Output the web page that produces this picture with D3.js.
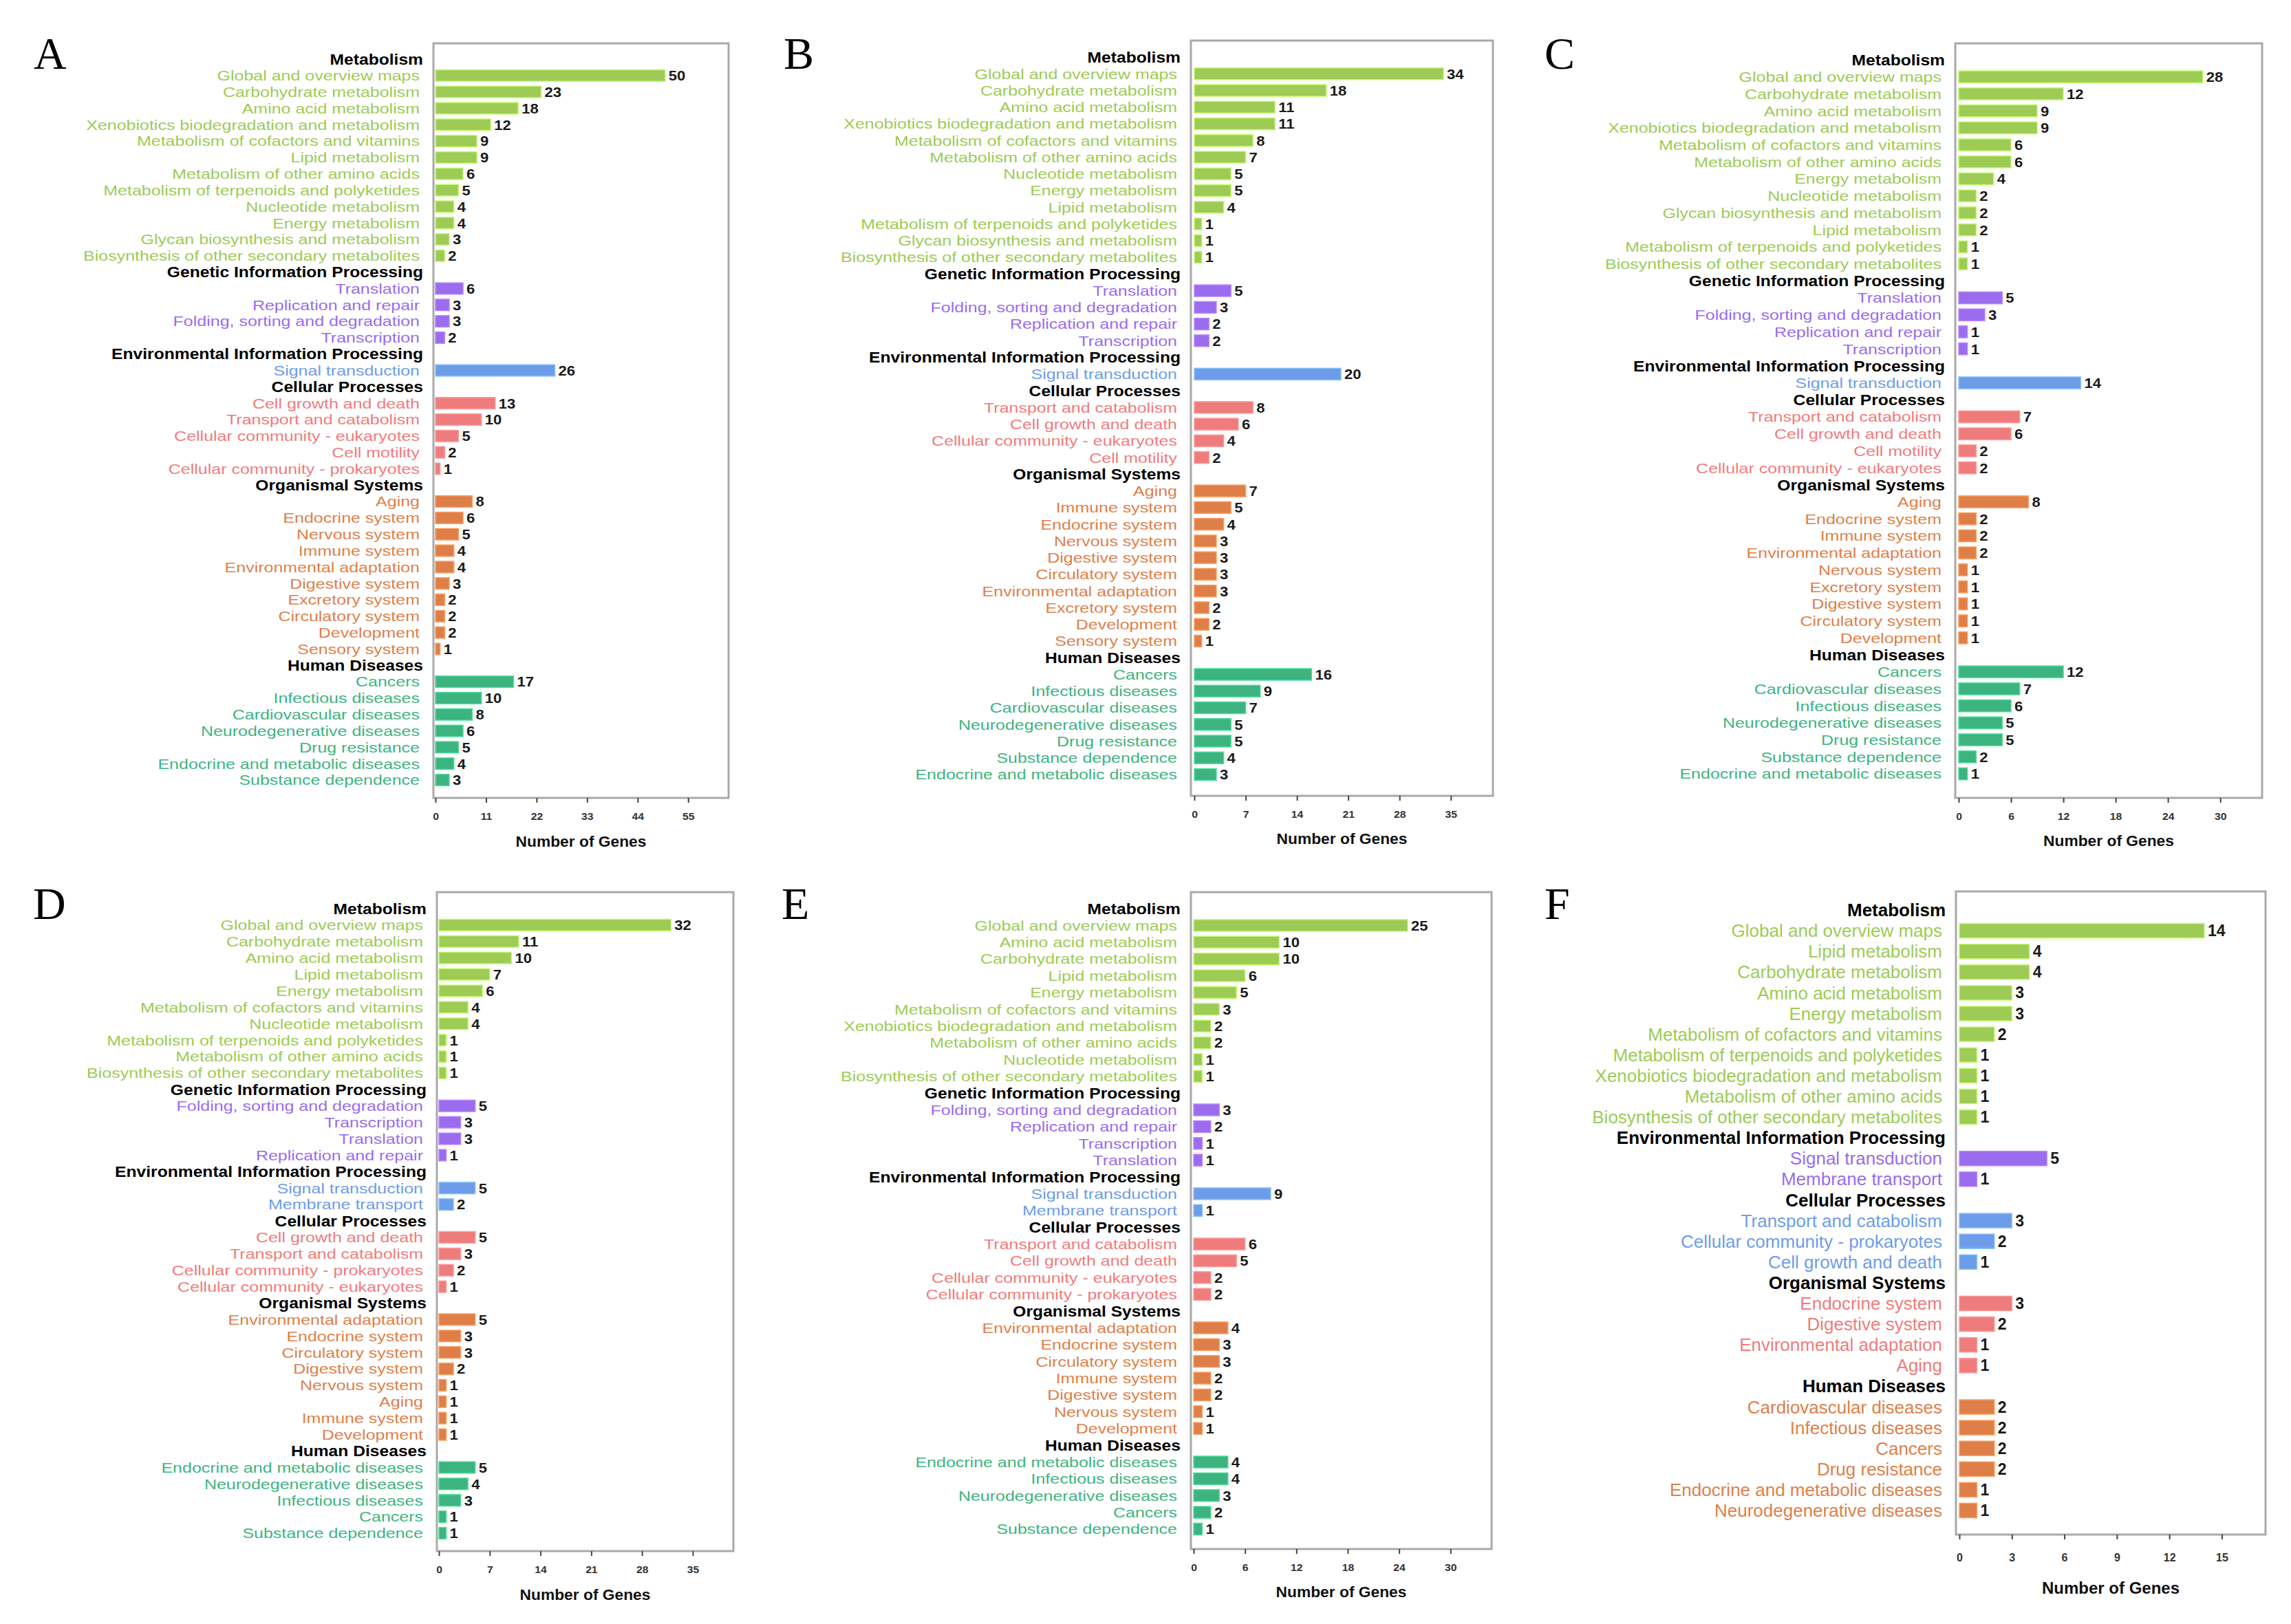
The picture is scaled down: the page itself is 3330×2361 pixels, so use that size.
<!DOCTYPE html>
<html>
<head>
<meta charset="utf-8">
<script src="https://cdn.jsdelivr.net/npm/d3@7"></script>
<style>
  body { margin: 0; background: #fff; }
</style>
</head>
<body>
<script>
// colours follow the order of the level-1 groups inside each panel
const palette = ["#9dcb55", "#9a6cee", "#6d9de8", "#ef7c7c", "#de7f4a", "#3db47f"];

// ---- panel A ----
const groupsA = ["Metabolism", "Genetic Information Processing", "Environmental Information Processing", "Cellular Processes", "Organismal Systems", "Human Diseases"];
const termsA = [
  ["Global and overview maps", "Carbohydrate metabolism", "Amino acid metabolism", "Xenobiotics biodegradation and metabolism", "Metabolism of cofactors and vitamins", "Lipid metabolism", "Metabolism of other amino acids", "Metabolism of terpenoids and polyketides", "Nucleotide metabolism", "Energy metabolism", "Glycan biosynthesis and metabolism", "Biosynthesis of other secondary metabolites"],
  ["Translation", "Replication and repair", "Folding, sorting and degradation", "Transcription"],
  ["Signal transduction"],
  ["Cell growth and death", "Transport and catabolism", "Cellular community - eukaryotes", "Cell motility", "Cellular community - prokaryotes"],
  ["Aging", "Endocrine system", "Nervous system", "Immune system", "Environmental adaptation", "Digestive system", "Excretory system", "Circulatory system", "Development", "Sensory system"],
  ["Cancers", "Infectious diseases", "Cardiovascular diseases", "Neurodegenerative diseases", "Drug resistance", "Endocrine and metabolic diseases", "Substance dependence"]
];
const valuesA = [
  [50, 23, 18, 12, 9, 9, 6, 5, 4, 4, 3, 2],
  [6, 3, 3, 2],
  [26],
  [13, 10, 5, 2, 1],
  [8, 6, 5, 4, 4, 3, 2, 2, 2, 1],
  [17, 10, 8, 6, 5, 4, 3]
];
const ticksA = [0, 11, 22, 33, 44, 55];

// ---- panel B ----
const groupsB = groupsA;
const termsB = [
  ["Global and overview maps", "Carbohydrate metabolism", "Amino acid metabolism", "Xenobiotics biodegradation and metabolism", "Metabolism of cofactors and vitamins", "Metabolism of other amino acids", "Nucleotide metabolism", "Energy metabolism", "Lipid metabolism", "Metabolism of terpenoids and polyketides", "Glycan biosynthesis and metabolism", "Biosynthesis of other secondary metabolites"],
  ["Translation", "Folding, sorting and degradation", "Replication and repair", "Transcription"],
  ["Signal transduction"],
  ["Transport and catabolism", "Cell growth and death", "Cellular community - eukaryotes", "Cell motility"],
  ["Aging", "Immune system", "Endocrine system", "Nervous system", "Digestive system", "Circulatory system", "Environmental adaptation", "Excretory system", "Development", "Sensory system"],
  ["Cancers", "Infectious diseases", "Cardiovascular diseases", "Neurodegenerative diseases", "Drug resistance", "Substance dependence", "Endocrine and metabolic diseases"]
];
const valuesB = [
  [34, 18, 11, 11, 8, 7, 5, 5, 4, 1, 1, 1],
  [5, 3, 2, 2],
  [20],
  [8, 6, 4, 2],
  [7, 5, 4, 3, 3, 3, 3, 2, 2, 1],
  [16, 9, 7, 5, 5, 4, 3]
];
const ticksB = [0, 7, 14, 21, 28, 35];

// ---- panel C ----
const groupsC = groupsA;
const termsC = [
  ["Global and overview maps", "Carbohydrate metabolism", "Amino acid metabolism", "Xenobiotics biodegradation and metabolism", "Metabolism of cofactors and vitamins", "Metabolism of other amino acids", "Energy metabolism", "Nucleotide metabolism", "Glycan biosynthesis and metabolism", "Lipid metabolism", "Metabolism of terpenoids and polyketides", "Biosynthesis of other secondary metabolites"],
  ["Translation", "Folding, sorting and degradation", "Replication and repair", "Transcription"],
  ["Signal transduction"],
  ["Transport and catabolism", "Cell growth and death", "Cell motility", "Cellular community - eukaryotes"],
  ["Aging", "Endocrine system", "Immune system", "Environmental adaptation", "Nervous system", "Excretory system", "Digestive system", "Circulatory system", "Development"],
  ["Cancers", "Cardiovascular diseases", "Infectious diseases", "Neurodegenerative diseases", "Drug resistance", "Substance dependence", "Endocrine and metabolic diseases"]
];
const valuesC = [
  [28, 12, 9, 9, 6, 6, 4, 2, 2, 2, 1, 1],
  [5, 3, 1, 1],
  [14],
  [7, 6, 2, 2],
  [8, 2, 2, 2, 1, 1, 1, 1, 1],
  [12, 7, 6, 5, 5, 2, 1]
];
const ticksC = [0, 6, 12, 18, 24, 30];

// ---- panel D ----
const groupsD = groupsA;
const termsD = [
  ["Global and overview maps", "Carbohydrate metabolism", "Amino acid metabolism", "Lipid metabolism", "Energy metabolism", "Metabolism of cofactors and vitamins", "Nucleotide metabolism", "Metabolism of terpenoids and polyketides", "Metabolism of other amino acids", "Biosynthesis of other secondary metabolites"],
  ["Folding, sorting and degradation", "Transcription", "Translation", "Replication and repair"],
  ["Signal transduction", "Membrane transport"],
  ["Cell growth and death", "Transport and catabolism", "Cellular community - prokaryotes", "Cellular community - eukaryotes"],
  ["Environmental adaptation", "Endocrine system", "Circulatory system", "Digestive system", "Nervous system", "Aging", "Immune system", "Development"],
  ["Endocrine and metabolic diseases", "Neurodegenerative diseases", "Infectious diseases", "Cancers", "Substance dependence"]
];
const valuesD = [
  [32, 11, 10, 7, 6, 4, 4, 1, 1, 1],
  [5, 3, 3, 1],
  [5, 2],
  [5, 3, 2, 1],
  [5, 3, 3, 2, 1, 1, 1, 1],
  [5, 4, 3, 1, 1]
];
const ticksD = [0, 7, 14, 21, 28, 35];

// ---- panel E ----
const groupsE = groupsA;
const termsE = [
  ["Global and overview maps", "Amino acid metabolism", "Carbohydrate metabolism", "Lipid metabolism", "Energy metabolism", "Metabolism of cofactors and vitamins", "Xenobiotics biodegradation and metabolism", "Metabolism of other amino acids", "Nucleotide metabolism", "Biosynthesis of other secondary metabolites"],
  ["Folding, sorting and degradation", "Replication and repair", "Transcription", "Translation"],
  ["Signal transduction", "Membrane transport"],
  ["Transport and catabolism", "Cell growth and death", "Cellular community - eukaryotes", "Cellular community - prokaryotes"],
  ["Environmental adaptation", "Endocrine system", "Circulatory system", "Immune system", "Digestive system", "Nervous system", "Development"],
  ["Endocrine and metabolic diseases", "Infectious diseases", "Neurodegenerative diseases", "Cancers", "Substance dependence"]
];
const valuesE = [
  [25, 10, 10, 6, 5, 3, 2, 2, 1, 1],
  [3, 2, 1, 1],
  [9, 1],
  [6, 5, 2, 2],
  [4, 3, 3, 2, 2, 1, 1],
  [4, 4, 3, 2, 1]
];
const ticksE = [0, 6, 12, 18, 24, 30];

// ---- panel F ----
const groupsF = ["Metabolism", "Environmental Information Processing", "Cellular Processes", "Organismal Systems", "Human Diseases"];
const termsF = [
  ["Global and overview maps", "Lipid metabolism", "Carbohydrate metabolism", "Amino acid metabolism", "Energy metabolism", "Metabolism of cofactors and vitamins", "Metabolism of terpenoids and polyketides", "Xenobiotics biodegradation and metabolism", "Metabolism of other amino acids", "Biosynthesis of other secondary metabolites"],
  ["Signal transduction", "Membrane transport"],
  ["Transport and catabolism", "Cellular community - prokaryotes", "Cell growth and death"],
  ["Endocrine system", "Digestive system", "Environmental adaptation", "Aging"],
  ["Cardiovascular diseases", "Infectious diseases", "Cancers", "Drug resistance", "Endocrine and metabolic diseases", "Neurodegenerative diseases"]
];
const valuesF = [
  [14, 4, 4, 3, 3, 2, 1, 1, 1, 1],
  [5, 1],
  [3, 2, 1],
  [3, 2, 1, 1],
  [2, 2, 2, 2, 1, 1]
];
const ticksF = [0, 3, 6, 9, 12, 15];

const W = 3330, H = 2361;
const sans = "'Liberation Sans', Arial, sans-serif";
const serif = "'Liberation Serif', 'Times New Roman', serif";

const svg = d3.select("body").append("svg")
  .attr("width", W)
  .attr("height", H)
  .style("background", "#fff");

// small panels were stretched sideways in the original figure
const narrow = { label: 21, sxLabel: 1.19, head: 22, sxHead: 1.12, value: 21, sxValue: 1.05, tick: 15, sxTick: 1.05, title: 21.5, sxTitle: 1.06 };
const wide = { label: 26, sxLabel: 1, head: 26, sxHead: 1, value: 23, sxValue: 1, tick: 16, sxTick: 1, title: 24, sxTitle: 1 };

const panels = [
  { id: "A", groups: groupsA, terms: termsA, values: valuesA, ticks: ticksA, letter: [49, 100], frame: [630, 63, 1059, 1160], zero: 633, xMax: 63.8, rows: [86, 1134], tickY: 27, titleY: 63, t: narrow },
  { id: "B", groups: groupsB, terms: termsB, values: valuesB, ticks: ticksB, letter: [1139, 100], frame: [1731, 59, 2170, 1157], zero: 1736, xMax: 40.75, rows: [83, 1126], tickY: 27, titleY: 62, t: narrow },
  { id: "C", groups: groupsC, terms: termsC, values: valuesC, ticks: ticksC, letter: [2245, 100], frame: [2842, 63, 3288, 1160], zero: 2847, xMax: 34.8, rows: [87, 1125], tickY: 27, titleY: 62, t: narrow },
  { id: "D", groups: groupsD, terms: termsD, values: valuesD, ticks: ticksD, letter: [48, 1336], frame: [635, 1297, 1066, 2255], zero: 638, xMax: 40.6, rows: [1321, 2229], tickY: 27, titleY: 63, t: narrow },
  { id: "E", groups: groupsE, terms: termsE, values: valuesE, ticks: ticksE, letter: [1136, 1336], frame: [1731, 1297, 2168, 2252], zero: 1735, xMax: 34.8, rows: [1321, 2223], tickY: 27, titleY: 62, t: narrow },
  { id: "F", groups: groupsF, terms: termsF, values: valuesF, ticks: ticksF, letter: [2245, 1336], frame: [2843, 1296, 3293, 2231], zero: 2848, xMax: 17.5, rows: [1323, 2196], tickY: 33, titleY: 78, t: wide }
];

function stext(g, x, y, str, size, sx, opts) {
  return g.append("text")
    .attr("transform", `translate(${x},${y}) scale(${sx},1)`)
    .attr("dy", "0.35em")
    .style("font-family", sans)
    .attr("font-size", size)
    .attr("font-weight", opts.bold ? "bold" : "normal")
    .attr("text-anchor", opts.anchor || "start")
    .attr("fill", opts.fill || "#111")
    .text(str);
}

panels.forEach(p => {
  const g = svg.append("g").attr("class", "panel-" + p.id);
  const [fx0, fy0, fx1, fy1] = p.frame;
  const t = p.t;

  // flatten groups into rows, headers take a row of their own
  const rows = [];
  p.groups.forEach((name, gi) => {
    rows.push({ head: true, name: name });
    p.terms[gi].forEach((term, k) => {
      rows.push({ head: false, name: term, value: p.values[gi][k], color: palette[gi] });
    });
  });

  const x = d3.scaleLinear().domain([0, p.xMax]).range([p.zero, fx1]);
  const y = d3.scalePoint().domain(d3.range(rows.length)).range(p.rows);
  const bh = y.step() * 0.7;

  // panel letter
  g.append("text")
    .attr("x", p.letter[0])
    .attr("y", p.letter[1])
    .style("font-family", serif)
    .attr("font-size", 66)
    .attr("fill", "#000")
    .text(p.id);

  // frame
  g.append("rect")
    .attr("x", fx0)
    .attr("y", fy0)
    .attr("width", fx1 - fx0)
    .attr("height", fy1 - fy0)
    .attr("fill", "none")
    .attr("stroke", "#a9a9a9")
    .attr("stroke-width", 3);

  const indexed = rows.map((r, i) => Object.assign({ i: i }, r));
  const terms = indexed.filter(r => !r.head);
  const heads = indexed.filter(r => r.head);

  g.selectAll("rect.bar")
    .data(terms)
    .enter()
    .append("rect")
    .attr("class", "bar")
    .attr("x", x(0))
    .attr("y", d => y(d.i) - bh / 2)
    .attr("width", d => x(d.value) - x(0))
    .attr("height", bh)
    .attr("fill", d => d.color)
    .attr("stroke", d => d3.color(d.color).brighter(0.6))
    .attr("stroke-width", 1.5);

  terms.forEach(d => {
    stext(g, fx0 - 20, y(d.i), d.name, t.label, t.sxLabel, { anchor: "end", fill: d.color });
    stext(g, x(d.value) + 5, y(d.i), d.value, t.value, t.sxValue, { bold: true, fill: "#1a1a1a" });
  });
  heads.forEach(d => {
    stext(g, fx0 - 15, y(d.i), d.name, t.head, t.sxHead, { anchor: "end", bold: true, fill: "#000" });
  });

  // x axis under the frame
  const ax = g.append("g")
    .attr("transform", `translate(0,${fy1})`)
    .call(d3.axisBottom(x).tickValues(p.ticks).tickSize(7).tickFormat(d3.format("d")));
  ax.select(".domain").remove();
  ax.selectAll(".tick line").attr("stroke", "#444").attr("stroke-width", 2);
  ax.selectAll(".tick text")
    .attr("y", p.tickY)
    .attr("dy", "0.35em")
    .attr("transform", `scale(${t.sxTick},1)`)
    .style("font-family", sans)
    .attr("font-size", t.tick)
    .attr("font-weight", "bold")
    .attr("fill", "#333");

  stext(g, (fx0 + fx1) / 2, fy1 + p.titleY, "Number of Genes", t.title, t.sxTitle, { anchor: "middle", bold: true, fill: "#111" });
});
</script>
</body>
</html>
